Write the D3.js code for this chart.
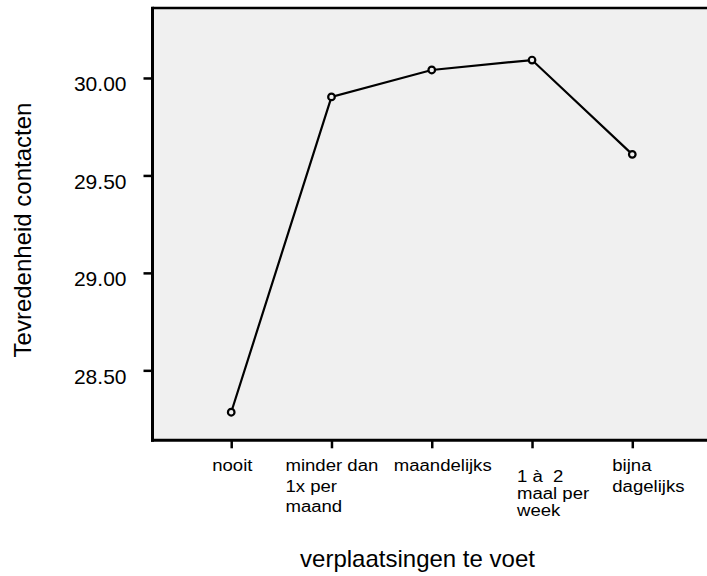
<!DOCTYPE html>
<html><head><meta charset="utf-8">
<script src="https://cdn.jsdelivr.net/npm/d3@7"></script>
<style>body{margin:0;background:#fff}svg{display:block}text{font-family:"Liberation Sans",Arial,sans-serif;fill:#000}</style>
</head><body>
<svg id="c" width="707" height="576"></svg>
<script>
const categories = ["nooit", "minder dan|1x per|maand", "maandelijks", "1 à  2|maal per|week", "bijna|dagelijks"];
const values = [28.285, 29.903, 30.041, 30.092, 29.608];
const yTicks = [28.5, 29.0, 29.5, 30.0];
const xTitle = "verplaatsingen te voet";
const yTitle = "Tevredenheid contacten";

const svg = d3.select("#c");
const L = 152.5, T = 8, R = 711, B = 440.3;
const FONT = '"Liberation Sans",Arial,sans-serif';
const x = d3.scalePoint().domain(categories).range([L, R]).padding(0.785);
const y = d3.scaleLinear().domain([28.141, 30.359]).range([B, T]);

svg.append("rect").attr("x", L).attr("y", T).attr("width", R - L).attr("height", B - T).attr("fill", "#f0f0f0");
svg.append("line").attr("x1", L).attr("x2", R).attr("y1", T).attr("y2", T).attr("stroke", "#000").attr("stroke-width", 2.5);

const yAx = svg.append("g").attr("transform", `translate(${L},0)`)
  .call(d3.axisLeft(y).tickValues(yTicks).tickFormat(d3.format(".2f")).tickSize(9).tickPadding(17));
yAx.select(".domain").attr("stroke-width", 3).attr("d", `M0,${T - 1.2}V${B + 1.5}`);
yAx.selectAll(".tick line").attr("stroke-width", 2.5);
yAx.selectAll(".tick text").attr("font-size", 21).attr("font-family", FONT).attr("dy", 13).attr("x", -26);

const xAx = svg.append("g").attr("transform", `translate(0,${B})`)
  .call(d3.axisBottom(x).tickSize(8).tickFormat(""));
xAx.select(".domain").attr("stroke-width", 3).attr("d", `M${L - 1.5},0H${R}`);
xAx.selectAll(".tick line").attr("stroke-width", 2.5);

// label layout: left offset from tick, first baseline offset, line spacing
const labelDx = [-19, -46, -38, -15, -20];
const labelDy = [31, 31, 31, 41.5, 31];
const labelGap = [20.5, 20.5, 20.5, 17.2, 20.5];
categories.forEach((c, i) => {
  const lines = c.split("|");
  const t = svg.append("text").attr("font-size", 16).style("white-space", "pre")
    .attr("transform", `translate(${x(c) + labelDx[i]},0) scale(1.16,1)`);
  lines.forEach((ln, j) => {
    t.append("tspan").attr("x", 0).attr("y", B + labelDy[i] + j * labelGap[i]).text(ln);
  });
});

const line = d3.line().x((d, i) => x(categories[i])).y(d => y(d));
svg.append("path").datum(values).attr("d", line).attr("fill", "none").attr("stroke", "#000").attr("stroke-width", 2.2);
svg.selectAll("circle.pt").data(values).join("circle").attr("class", "pt")
  .attr("cx", (d, i) => x(categories[i])).attr("cy", d => y(d)).attr("r", 3.3)
  .attr("fill", "#f0f0f0").attr("stroke", "#000").attr("stroke-width", 2.2);

svg.append("text").attr("x", 417.5).attr("y", 567).attr("text-anchor", "middle").attr("font-size", 24).text(xTitle);
svg.append("text").attr("transform", "translate(31,230) rotate(-90)").attr("text-anchor", "middle").attr("font-size", 24).text(yTitle);
</script>
</body></html>
